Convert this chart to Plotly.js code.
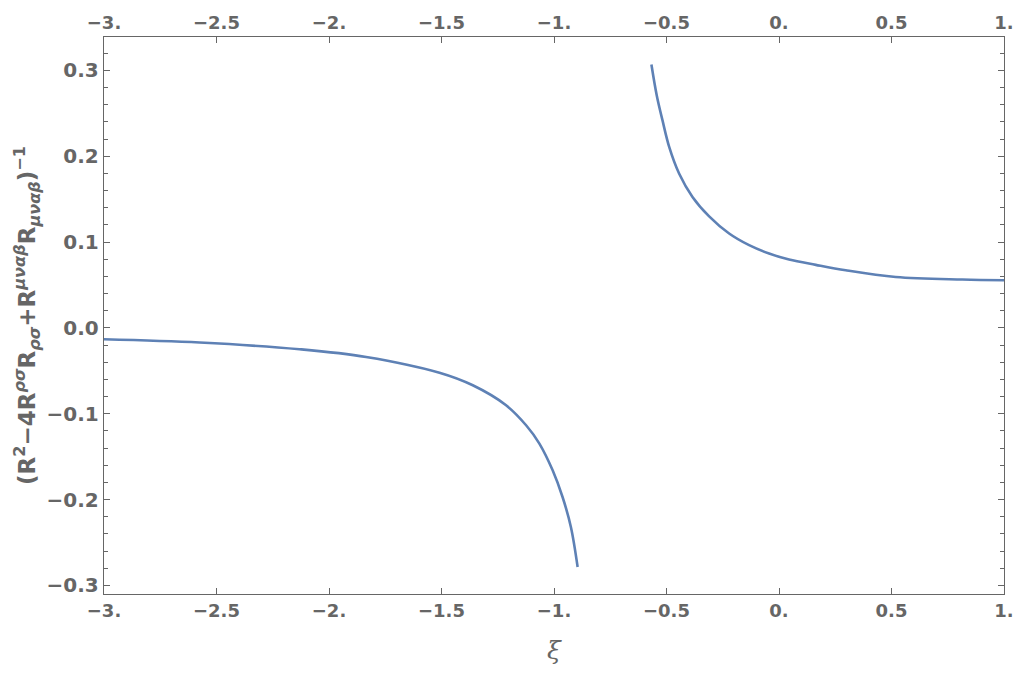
<!DOCTYPE html>
<html>
<head>
  <title>Inverse curvature invariant vs xi</title>
<script src="https://cdn.jsdelivr.net/npm/plotly.js-dist@3.0.1/plotly.min.js"></script>
<style>body{margin:0;} #graph{width:1014px;height:673px;}</style>
</head>
<body>
  <div id="graph"></div>
  <script>
    // values, branch left of the pole
    const xiLeft = [-3.0, -2.575, -2.131, -1.835, -1.509, -1.361, -1.213, -1.124, -1.065, -1.006, -0.962, -0.925, -0.895];
    const valLeft = [-0.0132, -0.017, -0.0248, -0.0338, -0.0522, -0.0668, -0.0901, -0.1134, -0.1347, -0.1659, -0.197, -0.2319, -0.2786];

    // branch right of the pole
    const xiRight = [-0.567, -0.5435, -0.518, -0.4881, -0.4441, -0.3845, -0.3104, -0.2216, -0.1328, -0.044, 0.0448, 0.1634, 0.2966, 0.5187, 0.8144, 1.0];
    const valRight = [0.307, 0.2712, 0.2421, 0.211, 0.18, 0.1527, 0.130, 0.110, 0.0964, 0.0867, 0.0797, 0.0735, 0.0672, 0.0594, 0.0564, 0.0556];

    // tick labels, Mathematica style
    const xTickVals = [-3, -2.5, -2, -1.5, -1, -0.5, 0, 0.5, 1];
    const xTickText = ['\u22123.', '\u22122.5', '\u22122.', '\u22121.5', '\u22121.', '\u22120.5', '0.', '0.5', '1.'];
    const yTickVals = [-0.3, -0.2, -0.1, 0, 0.1, 0.2, 0.3];
    const yTickText = ['\u22120.3', '\u22120.2', '\u22120.1', '0.0', '0.1', '0.2', '0.3'];

    const gray = '#666666';
    const lineColor = '#5E81B5';
    const yTickFont = { family: 'DejaVu Sans', size: 20, color: gray, weight: 'bold' };
    const xTickFont = { family: 'DejaVu Sans', size: 18, color: gray, weight: 'bold' };

    const data = [
      { x: xiLeft, y: valLeft, mode: 'lines', line: { color: lineColor, width: 2.6, shape: 'spline', smoothing: 1 }, hoverinfo: 'skip' },
      { x: xiRight, y: valRight, mode: 'lines', line: { color: lineColor, width: 2.6, shape: 'spline', smoothing: 1 }, hoverinfo: 'skip' }
    ];

    const layout = {
      width: 1014,
      height: 673,
      showlegend: false,
      paper_bgcolor: 'white',
      plot_bgcolor: 'white',
      margin: { l: 104, r: 10, t: 37, b: 79 },
      xaxis: {
        range: [-3, 1],
        tickvals: xTickVals,
        ticktext: xTickText,
        ticks: 'inside',
        ticklen: 6,
        tickcolor: gray,
        ticklabeloverflow: 'allow',
        showline: true,
        linecolor: gray,
        linewidth: 1.3,
        showgrid: false,
        zeroline: false,
        tickfont: xTickFont,
        title: { text: '\u03be', font: { family: 'DejaVu Serif', size: 25, color: gray, style: 'italic' }, standoff: 21 }
      },
      xaxis2: {
        overlaying: 'x',
        matches: 'x',
        side: 'top',
        range: [-3, 1],
        tickvals: xTickVals,
        ticktext: xTickText,
        ticks: 'inside',
        ticklen: 6,
        tickcolor: gray,
        ticklabeloverflow: 'allow',
        showline: true,
        linecolor: gray,
        linewidth: 1.3,
        showgrid: false,
        zeroline: false,
        tickfont: xTickFont
      },
      yaxis: {
        range: [-0.310, 0.339],
        tickvals: yTickVals,
        ticktext: yTickText,
        ticks: 'inside',
        ticklen: 6,
        tickcolor: gray,
        minor: { dtick: 0.02, ticks: 'inside', ticklen: 4, tickcolor: gray },
        showline: true,
        linecolor: gray,
        linewidth: 1.3,
        mirror: 'ticks',
        showgrid: false,
        zeroline: false,
        tickfont: yTickFont,
        title: {
          text: '<b>(R<sup>2</sup>\u22124R<sup><i>\u03c1\u03c3</i></sup>R<sub><i>\u03c1\u03c3</i></sub>+R<sup><i>\u03bc\u03bd\u03b1\u03b2</i></sup>R<sub><i>\u03bc\u03bd\u03b1\u03b2</i></sub>)<sup>\u22121</sup></b>',
          font: { family: 'DejaVu Sans', size: 23, color: gray },
          standoff: 4
        }
      }
    };

    // invisible trace so the top axis is drawn
    data.push({ x: [-3], y: [0], xaxis: 'x2', mode: 'markers', marker: { opacity: 0 }, hoverinfo: 'skip' });

    Plotly.newPlot('graph', data, layout, { displayModeBar: false, staticPlot: true });
  </script>
</body>
</html>
